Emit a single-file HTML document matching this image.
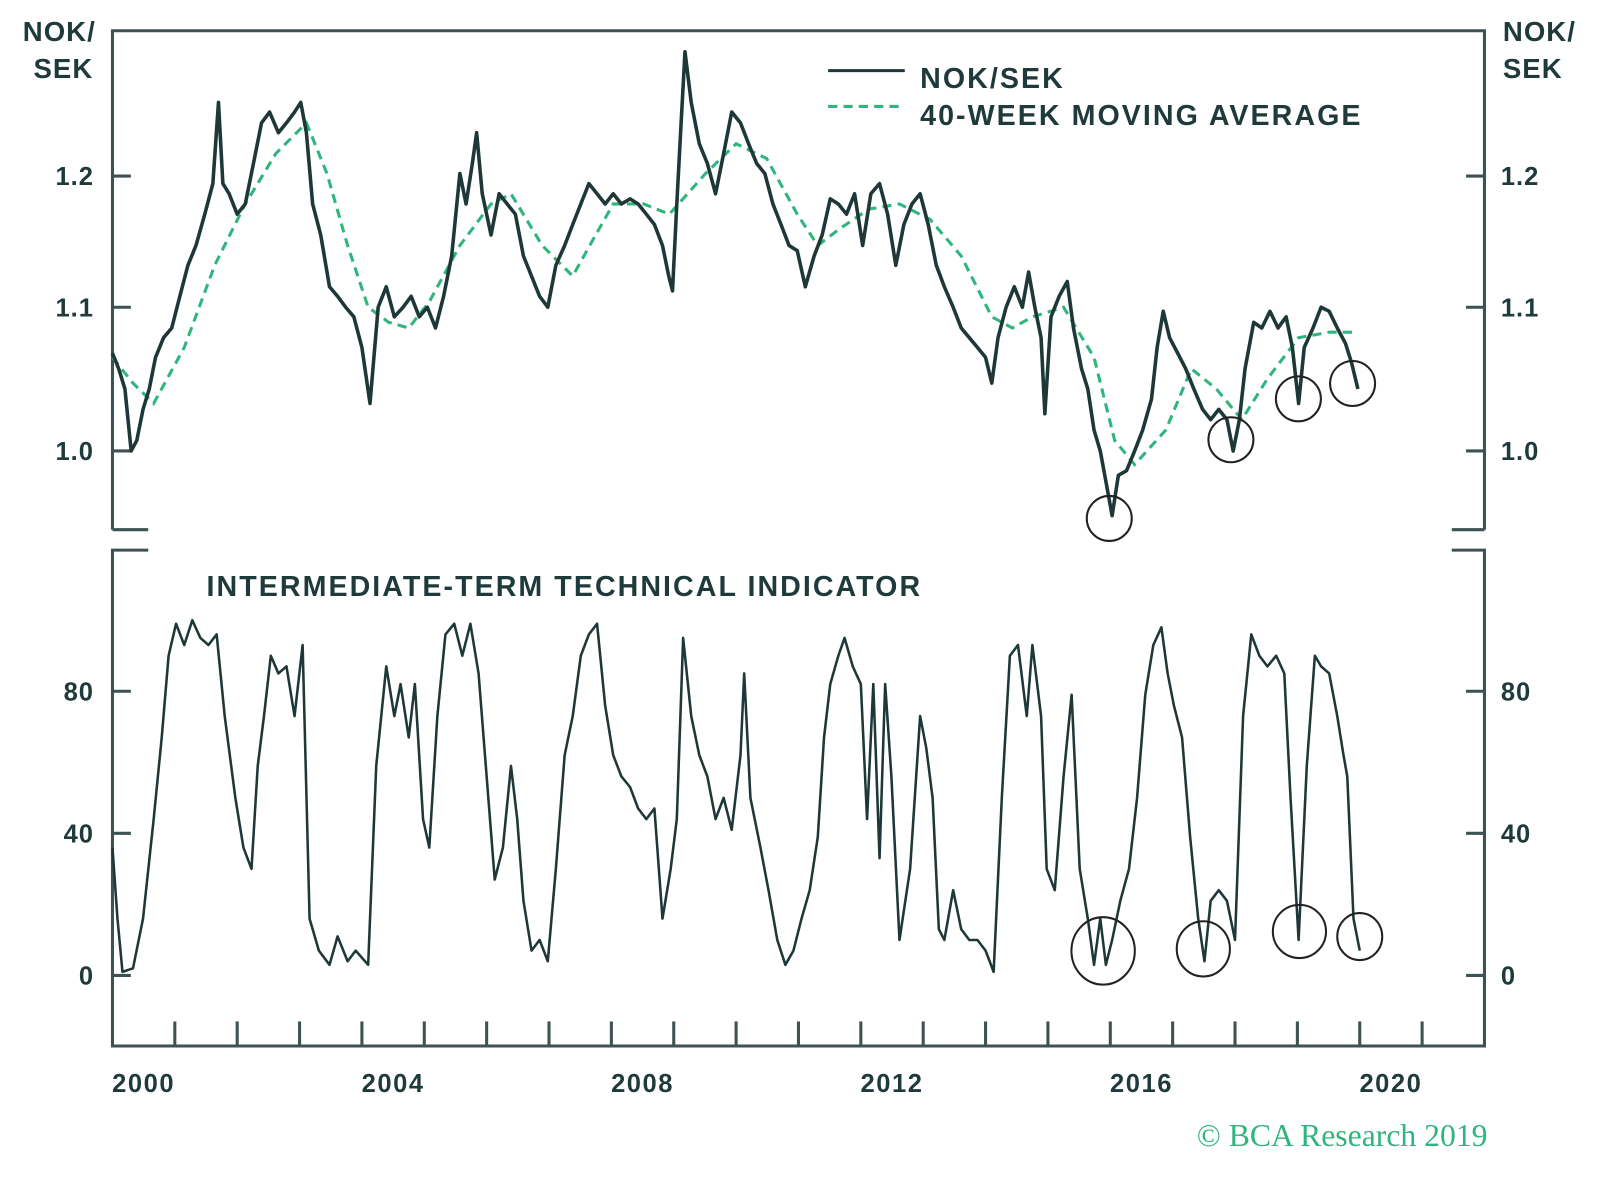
<!DOCTYPE html>
<html><head><meta charset="utf-8"><style>
html,body{margin:0;padding:0;background:#fff;}
svg{display:block;}
text{font-family:"Liberation Sans",sans-serif;font-weight:bold;fill:#1f3a3a;}
</style></head><body>
<svg id="chart" width="1600" height="1179" viewBox="0 0 1565 1153">
<g id="frame" stroke="#3d5252" stroke-width="3" fill="none">
  <path d="M110 518 V30 H1452 V518"/>
  <path d="M110 518 H145 M1420 518 H1452"/>
  <path d="M145 538 H110 V1023 H1452 V538 H1420"/>
</g>
<text x="58" y="40" font-size="27" letter-spacing="1" text-anchor="middle">NOK/</text>
<text x="62" y="76" font-size="27" letter-spacing="1" text-anchor="middle">SEK</text>
<text x="1470" y="40" font-size="27" letter-spacing="1">NOK/</text>
<text x="1470" y="76" font-size="27" letter-spacing="1">SEK</text>
<g>
  <line x1="810" y1="69" x2="885" y2="69" stroke="#1e3838" stroke-width="3"/>
  <text x="900" y="86" font-size="28" letter-spacing="2">NOK/SEK</text>
  <line x1="810" y1="104" x2="885" y2="104" stroke="#2fb57e" stroke-width="3" stroke-dasharray="9,6"/>
  <text x="900" y="122" font-size="28" letter-spacing="2">40-WEEK MOVING AVERAGE</text>
</g>
<text x="202" y="583" font-size="28" letter-spacing="2">INTERMEDIATE-TERM TECHNICAL INDICATOR</text>
<text x="1455" y="1121" font-size="31" text-anchor="end" style="font-family:'Liberation Serif',serif;font-weight:normal;fill:#2fb57e">© BCA Research 2019</text>
<g id="axes"></g>
<g id="series"></g>
<g stroke="#222" stroke-width="2" fill="none">
  <circle cx="1085" cy="507" r="22"/>
  <circle cx="1204" cy="430" r="22"/>
  <circle cx="1270" cy="390" r="22"/>
  <circle cx="1323" cy="375" r="22"/>
  <ellipse cx="1079" cy="930" rx="31" ry="33"/>
  <ellipse cx="1177" cy="928" rx="26" ry="27"/>
  <ellipse cx="1271" cy="911" rx="26" ry="26"/>
  <ellipse cx="1330" cy="916" rx="22" ry="23"/>
</g>
</svg>
<script>
const priceT=[2000.00,2000.10,2000.20,2000.30,2000.39,2000.49,2000.59,2000.69,2000.82,2000.95,2001.08,2001.21,2001.34,2001.48,2001.61,2001.70,2001.77,2001.87,2002.00,2002.13,2002.26,2002.39,2002.52,2002.66,2002.79,2002.92,2003.02,2003.11,2003.21,2003.34,2003.48,2003.61,2003.74,2003.87,2004.00,2004.13,2004.26,2004.39,2004.52,2004.66,2004.79,2004.92,2005.05,2005.18,2005.31,2005.44,2005.57,2005.67,2005.77,2005.84,2005.93,2006.07,2006.20,2006.33,2006.46,2006.59,2006.72,2006.85,2006.98,2007.11,2007.25,2007.38,2007.51,2007.64,2007.77,2007.90,2008.03,2008.16,2008.30,2008.43,2008.56,2008.69,2008.82,2008.92,2008.98,2009.05,2009.11,2009.18,2009.28,2009.41,2009.54,2009.67,2009.80,2009.93,2010.07,2010.20,2010.33,2010.46,2010.59,2010.72,2010.85,2010.98,2011.11,2011.25,2011.38,2011.51,2011.64,2011.77,2011.90,2012.03,2012.16,2012.30,2012.43,2012.56,2012.69,2012.82,2012.95,2013.08,2013.21,2013.34,2013.48,2013.61,2013.74,2013.87,2014.00,2014.10,2014.20,2014.33,2014.46,2014.59,2014.69,2014.79,2014.89,2014.95,2015.05,2015.18,2015.31,2015.41,2015.54,2015.64,2015.74,2015.84,2015.93,2016.03,2016.13,2016.26,2016.39,2016.52,2016.66,2016.75,2016.85,2016.95,2017.08,2017.21,2017.34,2017.48,2017.61,2017.74,2017.87,2017.97,2018.07,2018.16,2018.30,2018.43,2018.56,2018.69,2018.82,2018.92,2019.02,2019.11,2019.25,2019.38,2019.51,2019.64,2019.77,2019.87,2019.97];
const priceV=[1.067,1.056,1.042,1.000,1.007,1.028,1.042,1.064,1.078,1.085,1.108,1.131,1.146,1.170,1.194,1.260,1.194,1.186,1.170,1.178,1.210,1.243,1.252,1.235,1.243,1.252,1.260,1.235,1.178,1.154,1.115,1.108,1.100,1.093,1.071,1.032,1.100,1.115,1.093,1.100,1.108,1.093,1.100,1.085,1.108,1.138,1.202,1.178,1.210,1.235,1.186,1.154,1.186,1.178,1.170,1.138,1.123,1.108,1.100,1.131,1.146,1.162,1.178,1.194,1.186,1.178,1.186,1.178,1.182,1.178,1.170,1.162,1.146,1.123,1.112,1.178,1.235,1.303,1.260,1.226,1.210,1.186,1.218,1.252,1.243,1.226,1.210,1.202,1.178,1.162,1.146,1.142,1.115,1.138,1.154,1.182,1.178,1.170,1.186,1.146,1.186,1.194,1.170,1.131,1.162,1.178,1.186,1.162,1.131,1.115,1.100,1.085,1.078,1.071,1.064,1.046,1.078,1.100,1.115,1.100,1.126,1.100,1.078,1.025,1.093,1.108,1.119,1.085,1.056,1.042,1.014,1.000,0.980,0.958,0.984,0.987,1.000,1.014,1.035,1.071,1.097,1.078,1.067,1.056,1.042,1.028,1.021,1.028,1.021,1.000,1.021,1.056,1.089,1.085,1.097,1.085,1.093,1.071,1.032,1.071,1.085,1.100,1.097,1.085,1.074,1.060,1.042];
const maT=[2000.00,2000.33,2000.66,2001.15,2001.64,2002.13,2002.62,2003.11,2003.44,2003.77,2004.10,2004.43,2004.75,2005.08,2005.57,2006.07,2006.39,2006.89,2007.38,2007.70,2008.03,2008.52,2008.93,2009.51,2010.00,2010.49,2010.98,2011.31,2011.64,2012.13,2012.62,2013.11,2013.61,2014.10,2014.43,2014.75,2015.25,2015.74,2016.07,2016.39,2016.89,2017.30,2017.70,2018.11,2018.52,2019.02,2019.51,2019.92];
const maV=[1.064,1.046,1.032,1.071,1.131,1.178,1.218,1.243,1.202,1.146,1.100,1.089,1.085,1.104,1.146,1.178,1.186,1.146,1.123,1.150,1.178,1.178,1.170,1.202,1.226,1.214,1.170,1.146,1.158,1.174,1.178,1.166,1.138,1.093,1.085,1.093,1.100,1.064,1.007,0.991,1.014,1.056,1.042,1.021,1.049,1.078,1.082,1.082];
const indT=[2000.00,2000.08,2000.16,2000.33,2000.49,2000.66,2000.79,2000.90,2001.02,2001.15,2001.28,2001.41,2001.54,2001.67,2001.80,2001.97,2002.10,2002.23,2002.33,2002.43,2002.54,2002.66,2002.79,2002.92,2003.05,2003.16,2003.31,2003.48,2003.61,2003.77,2003.90,2004.10,2004.23,2004.39,2004.52,2004.62,2004.75,2004.85,2004.98,2005.08,2005.21,2005.34,2005.48,2005.61,2005.74,2005.87,2006.00,2006.13,2006.26,2006.39,2006.49,2006.59,2006.72,2006.85,2006.98,2007.11,2007.25,2007.38,2007.51,2007.64,2007.77,2007.90,2008.03,2008.16,2008.30,2008.43,2008.56,2008.69,2008.82,2008.95,2009.05,2009.15,2009.28,2009.41,2009.54,2009.67,2009.80,2009.93,2010.07,2010.13,2010.23,2010.39,2010.52,2010.66,2010.79,2010.92,2011.05,2011.18,2011.31,2011.41,2011.51,2011.64,2011.74,2011.87,2012.00,2012.10,2012.20,2012.30,2012.39,2012.49,2012.62,2012.79,2012.95,2013.05,2013.15,2013.25,2013.34,2013.48,2013.61,2013.74,2013.87,2014.00,2014.13,2014.26,2014.39,2014.52,2014.66,2014.75,2014.89,2014.98,2015.11,2015.25,2015.38,2015.51,2015.64,2015.74,2015.84,2015.93,2016.03,2016.16,2016.30,2016.43,2016.56,2016.69,2016.82,2016.92,2017.02,2017.15,2017.28,2017.41,2017.51,2017.61,2017.74,2017.87,2018.00,2018.13,2018.26,2018.39,2018.52,2018.66,2018.79,2018.89,2019.02,2019.15,2019.28,2019.38,2019.51,2019.64,2019.74,2019.80,2019.90,2020.00];
const indV=[36,16,1,2,16,44,67,90,99,93,100,95,93,96,73,50,36,30,59,73,90,85,87,73,93,16,7,3,11,4,7,3,59,87,73,82,67,82,44,36,73,96,99,90,99,85,56,27,36,59,44,21,7,10,4,30,62,73,90,96,99,76,62,56,53,47,44,47,16,30,44,95,73,62,56,44,50,41,62,85,50,36,24,10,3,7,16,24,39,67,82,90,95,87,82,44,82,33,82,56,10,30,73,64,50,13,10,24,13,10,10,7,1,50,90,93,73,93,73,30,24,56,79,30,16,3,16,3,10,21,30,50,79,93,98,85,76,67,39,16,4,21,24,21,10,73,96,90,87,90,85,50,10,59,90,87,85,73,62,56,16,7];
const topTicks=[1.0,1.1,1.2];
const topTickLabels=["1.0","1.1","1.2"];
const botTicks=[0,40,80];
const botTickLabels=["0","40","80"];
const yearTicks=[2001,2002,2003,2004,2005,2006,2007,2008,2009,2010,2011,2012,2013,2014,2015,2016,2017,2018,2019,2020,2021];
const yearLabels=["2000","2004","2008","2012","2016","2020"];

const NS="http://www.w3.org/2000/svg";
const xS=t=>110+61*(t-2000);
const yTop=v=>441-1475*Math.log(v);
const yBot=v=>954-3.475*v;
const axes=document.getElementById('axes'), series=document.getElementById('series');
function mk(tag,attrs,parent){const e=document.createElementNS(NS,tag);for(const k in attrs)e.setAttribute(k,attrs[k]);parent.appendChild(e);return e;}
topTicks.forEach((v,i)=>{
  const y=yTop(v);
  let l=mk('line',{x1:110,x2:128,y1:y,y2:y,stroke:'#3d5252','stroke-width':3},axes);
  
  
  let r=mk('line',{x1:1434,x2:1452,y1:y,y2:y,stroke:'#3d5252','stroke-width':3},axes);
  
  
  let t=mk('text',{x:92,y:y+9,'font-size':25,'letter-spacing':1,'text-anchor':'end'},axes);t.textContent=topTickLabels[i];
  
  
  let t2=mk('text',{x:1468,y:y+9,'font-size':25,'letter-spacing':1},axes);t2.textContent=topTickLabels[i];
  
  
});
botTicks.forEach((v,i)=>{
  const y=yBot(v);
  let l=mk('line',{x1:110,x2:128,y1:y,y2:y,stroke:'#3d5252','stroke-width':3},axes);
  
  
  let r=mk('line',{x1:1434,x2:1452,y1:y,y2:y,stroke:'#3d5252','stroke-width':3},axes);
  
  
  let t=mk('text',{x:92,y:y+9,'font-size':25,'letter-spacing':1,'text-anchor':'end'},axes);t.textContent=botTickLabels[i];
  
  
  let t2=mk('text',{x:1468,y:y+9,'font-size':25,'letter-spacing':1},axes);t2.textContent=botTickLabels[i];
  
  
});
yearTicks.forEach(yr=>{
  const x=xS(yr);
  let l=mk('line',{x1:x,x2:x,y1:999,y2:1023,stroke:'#3d5252','stroke-width':3},axes);
  
  
});
yearLabels.forEach(s=>{
  let t=mk('text',{x:xS(+s+0.5),y:1068,'font-size':25,'letter-spacing':1.5,'text-anchor':'middle'},axes);t.textContent=s;
  
  
});
function pathD(T,V,fy){return T.map((t,i)=>(i?'L':'M')+xS(t).toFixed(1)+' '+fy(V[i]).toFixed(1)).join(' ');}
let ma=mk('path',{d:pathD(maT,maV,yTop),fill:'none',stroke:'#2fb57e','stroke-width':3,'stroke-dasharray':'9,6'},series);


let pr=mk('path',{d:pathD(priceT,priceV,yTop),fill:'none',stroke:'#1e3838','stroke-width':3.5,'stroke-linejoin':'round'},series);


let ind=mk('path',{d:pathD(indT,indV,yBot),fill:'none',stroke:'#1e3838','stroke-width':2.5,'stroke-linejoin':'round'},series);


</script>
</body></html>
